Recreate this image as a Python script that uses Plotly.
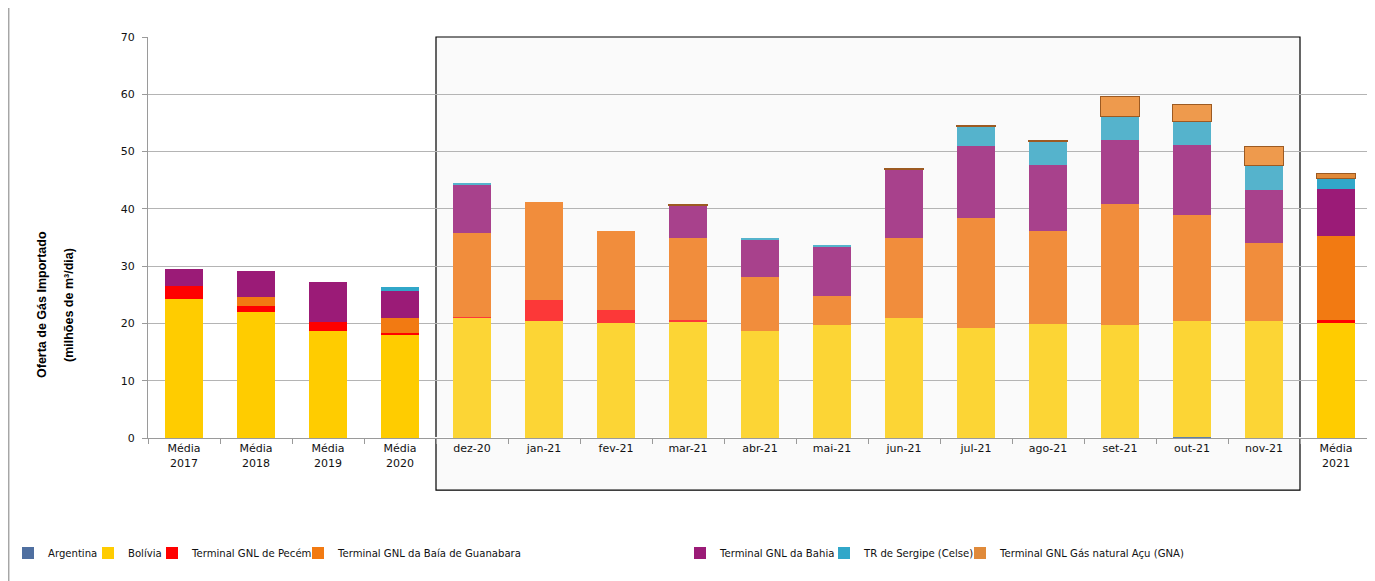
import plotly.graph_objects as go

# categorias do eixo x
categorias = ["Média<br>2017", "Média<br>2018", "Média<br>2019", "Média<br>2020",
              "dez-20", "jan-21", "fev-21", "mar-21", "abr-21", "mai-21", "jun-21",
              "jul-21", "ago-21", "set-21", "out-21", "nov-21", "Média<br>2021"]

# valores (milhões de m3/dia)
argentina = [0, 0, 0, 0, 0, 0, 0, 0, 0, 0, 0, 0, 0, 0, 0.1, 0, 0]
bolivia = [24.3, 22.0, 18.7, 17.9, 21.1, 20.4, 20.1, 20.2, 18.7, 19.7, 20.9, 19.2, 19.9, 19.7, 20.4, 20.5, 20.0]
pecem = [2.3, 1.1, 1.6, 0.5, 0.1, 3.7, 2.2, 0.4, 0, 0, 0, 0, 0, 0, 0, 0, 0.6]
guanabara = [0, 1.5, 0, 2.5, 14.6, 17.1, 13.8, 14.3, 9.4, 5.1, 14.0, 19.2, 16.2, 21.1, 18.4, 13.5, 14.7]
bahia = [2.9, 4.5, 6.9, 4.7, 8.4, 0, 0, 5.6, 6.5, 8.7, 11.9, 12.6, 11.5, 11.2, 12.2, 9.3, 8.2]
sergipe = [0, 0, 0, 0.8, 0.4, 0, 0, 0, 0.3, 0.2, 0, 3.4, 4.2, 4.2, 4.1, 4.2, 1.8]
gna = [0, 0, 0, 0, 0, 0, 0, 0.2, 0, 0, 0.2, 0.2, 0.2, 3.5, 3.1, 3.4, 0.9]

# cores: médias anuais (cores fortes) e meses (cores mais claras)
cores_media = {"Argentina": "#4F6FA0", "Bolívia": "#FFCC00", "Pecém": "#FF0000",
               "Guanabara": "#F27A12", "Bahia": "#9B1B77", "Sergipe": "#31A7C9", "GNA": "#E08A3A"}
cores_mes = {"Argentina": "#5B7FAE", "Bolívia": "#FCD535", "Pecém": "#FC3838",
             "Guanabara": "#F18D3C", "Bahia": "#A8418C", "Sergipe": "#55B3CC", "GNA": "#EE9A4D"}


def cores(chave):
    out = []
    for c in categorias:
        out.append(cores_media[chave] if c.startswith("Média") else cores_mes[chave])
    return out


# nome, valores, chave de cor, início do texto da legenda (px na tela)
series = [
    ("Argentina", argentina, "Argentina", 40),
    ("Bolívia", bolivia, "Bolívia", 122),
    ("Terminal GNL de Pecém", pecem, "Pecém", 186),
    ("Terminal GNL da Baía de Guanabara", guanabara, "Guanabara", 332),
    ("Terminal GNL da Bahia", bahia, "Bahia", 714),
    ("TR de Sergipe (Celse)", sergipe, "Sergipe", 858),
    ("Terminal GNL Gás natural Açu (GNA)", gna, "GNA", 994),
]

W, H = 1367, 573      # a página tem 8 px de margem
plot_left = 148
plot_w = 1224
plot_bottom = 438
plot_h = 401

fig = go.Figure()
legendas = {}
for i, (nome, valores, chave, tx) in enumerate(series):
    linha = dict(width=0)
    if chave == "GNA":
        linha = dict(width=[1 if v > 0 else 0 for v in valores], color="#9C5A22")
    lg = "legend" if i == 0 else "legend%d" % (i + 1)
    fig.add_bar(x=categorias, y=valores, name=nome, legend=lg,
                marker=dict(color=cores(chave), line=linha))
    legendas[lg] = dict(orientation="h", xref="container", yref="container",
                        x=max(0, (tx - 34 - 8) / W), xanchor="left",
                        y=1 - (553 - 8) / H, yanchor="middle",
                        font=dict(family="DejaVu Sans", size=10.1, color="#111111"),
                        itemwidth=30, bgcolor="rgba(0,0,0,0)")

# caixa em torno dos meses
fig.add_shape(type="rect", xref="x", yref="paper", x0=3.5, x1=15.5, y0=-0.13, y1=1.0,
              line=dict(color="black", width=1.2), fillcolor="#FAFAFA", layer="below")
# borda esquerda do quadro
fig.add_shape(type="line", xref="paper", yref="paper", x0=-0.114, x1=-0.114, y0=-0.36, y1=1.1,
              line=dict(color="#A6A6A6", width=2))

# título do eixo y (duas linhas)
for texto, px in [("Oferta de Gás Importado", 42), ("(milhões de m³/dia)", 69)]:
    fig.add_annotation(text="<b>" + texto + "</b>", xref="paper", yref="paper",
                       x=(px - plot_left) / plot_w, y=(plot_bottom - 305) / plot_h,
                       xanchor="center", yanchor="middle", textangle=-90, showarrow=False,
                       font=dict(family="Liberation Sans Narrow, Arial Narrow, sans-serif",
                                 size=12.5, color="black"))

fig.update_layout(
    barmode="stack",
    bargap=0.47,
    width=W, height=H,
    margin=dict(l=plot_left - 8, r=3, t=29, b=143, autoexpand=False),
    paper_bgcolor="white",
    plot_bgcolor="rgba(0,0,0,0)",
    font=dict(family="DejaVu Sans", size=11, color="#222222"),
    showlegend=True,
    **legendas,
)
fig.update_xaxes(showline=True, linecolor="#9A9A9A", ticks="outside", tickson="boundaries",
                 tickcolor="#9A9A9A", ticklen=5, tickfont=dict(size=11, color="#111111"),
                 showgrid=False)
fig.update_yaxes(range=[0, 70], dtick=10, showline=True, linecolor="#9A9A9A",
                 ticks="outside", tickcolor="#9A9A9A", ticklen=5, gridcolor="#B4B4B4",
                 tickfont=dict(size=11, color="#111111"), ticklabelstandoff=5)

fig.write_html("out.html")
